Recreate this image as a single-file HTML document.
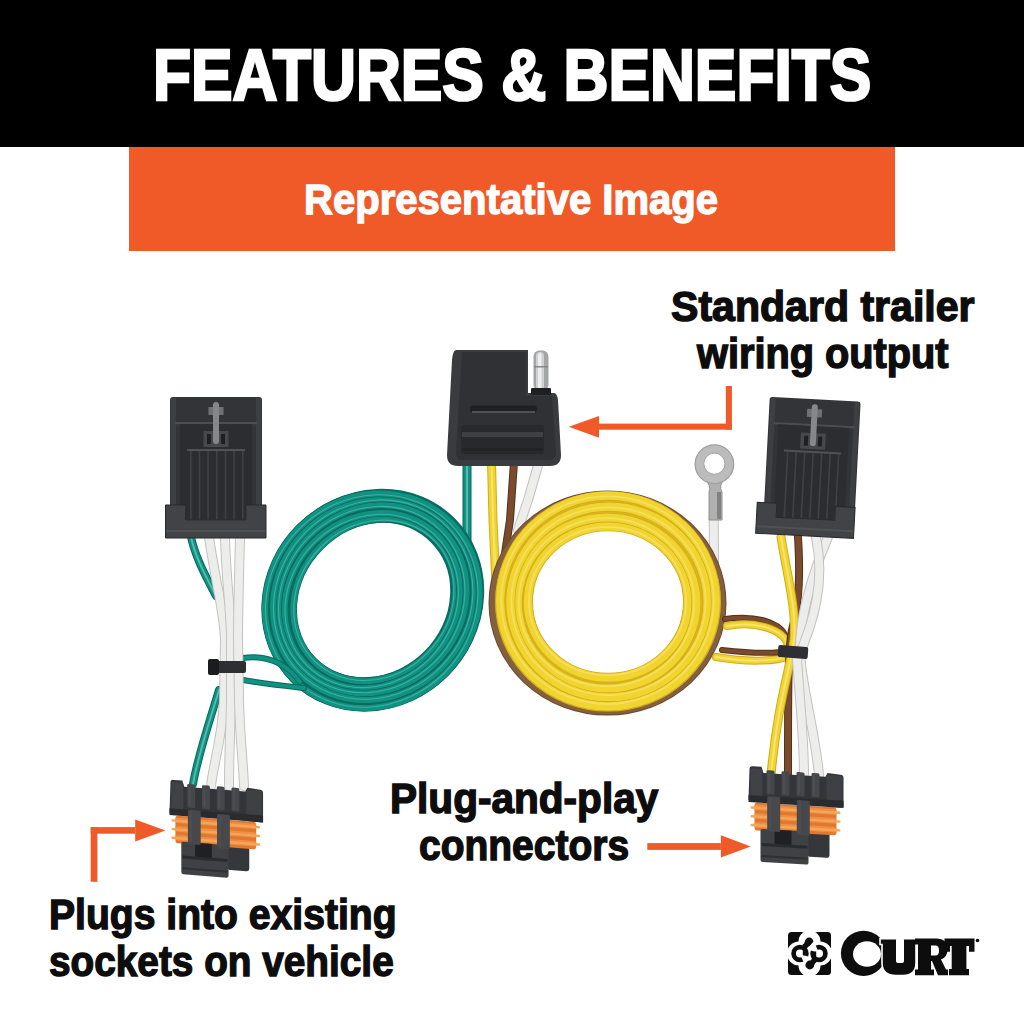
<!DOCTYPE html>
<html><head><meta charset="utf-8">
<style>
html,body{margin:0;padding:0;background:#fff;width:1024px;height:1024px;overflow:hidden;position:relative}
.t{position:absolute;font-family:"Liberation Sans",sans-serif;font-weight:bold;white-space:nowrap;line-height:1;transform-origin:0 0}
#hdr{position:absolute;left:0;top:0;width:1024px;height:147px;background:#000}
#band{position:absolute;left:129px;top:147px;width:766px;height:104px;background:#f05a28}
svg{position:absolute;left:0;top:0}
</style></head><body>
<div id="hdr"></div>
<div id="band"></div>
<div class="t" id="t1" style="color:#fff;-webkit-text-stroke:2.6px #fff;font-size:71.5px;left:153px;top:39.5px;transform:scaleX(0.8707)">FEATURES &amp; BENEFITS</div>
<div class="t" id="t2" style="color:#fff;-webkit-text-stroke:1.3px #fff;font-size:42.3px;left:304px;top:179px;transform:scaleX(0.947)">Representative Image</div>
<div class="t" id="t3" style="color:#0d0d0d;-webkit-text-stroke:1.4px #0d0d0d;font-size:42px;left:671px;top:286px;transform:scaleX(0.978)">Standard trailer</div>
<div class="t" id="t4" style="color:#0d0d0d;-webkit-text-stroke:1.4px #0d0d0d;font-size:42px;left:697px;top:332.5px;transform:scaleX(0.946)">wiring output</div>
<div class="t" id="t5" style="color:#0d0d0d;-webkit-text-stroke:1.4px #0d0d0d;font-size:42.5px;left:390px;top:777.5px;transform:scaleX(0.955)">Plug-and-play</div>
<div class="t" id="t6" style="color:#0d0d0d;-webkit-text-stroke:1.4px #0d0d0d;font-size:42.5px;left:419px;top:825px;transform:scaleX(0.917)">connectors</div>
<div class="t" id="t7" style="color:#0d0d0d;-webkit-text-stroke:1.4px #0d0d0d;font-size:42.5px;left:49px;top:893.5px;transform:scaleX(0.92)">Plugs into existing</div>
<div class="t" id="t8" style="color:#0d0d0d;-webkit-text-stroke:1.4px #0d0d0d;font-size:42.5px;left:49px;top:941px;transform:scaleX(0.912)">sockets on vehicle</div>
<svg width="1024" height="1024" viewBox="0 0 1024 1024">
<path d="M467,462 L467,560" fill="none" stroke="#0a675c" stroke-width="9" stroke-linecap="round" stroke-linejoin="round"/>
<path d="M467,462 L467,560" fill="none" stroke="#0f9282" stroke-width="7" stroke-linecap="round" stroke-linejoin="round"/>
<path d="M467,462 L467,560" fill="none" stroke="#6cc6ba" stroke-width="2.0" stroke-linecap="round" opacity="0.8"/>
<path d="M491.5,462 L493,520 L496,585" fill="none" stroke="#cfad1c" stroke-width="9" stroke-linecap="round" stroke-linejoin="round"/>
<path d="M491.5,462 L493,520 L496,585" fill="none" stroke="#f2d42f" stroke-width="7" stroke-linecap="round" stroke-linejoin="round"/>
<path d="M491.5,462 L493,520 L496,585" fill="none" stroke="#f9e787" stroke-width="2.0" stroke-linecap="round" opacity="0.8"/>
<path d="M514,462 L510,520 L504,560" fill="none" stroke="#54321c" stroke-width="8" stroke-linecap="round" stroke-linejoin="round"/>
<path d="M514,462 L510,520 L504,560" fill="none" stroke="#7a4b2c" stroke-width="6" stroke-linecap="round" stroke-linejoin="round"/>
<path d="M539,462 L528,500 L518,530" fill="none" stroke="#c2c2c0" stroke-width="10" stroke-linecap="round" stroke-linejoin="round"/>
<path d="M539,462 L528,500 L518,530" fill="none" stroke="#ededeb" stroke-width="8" stroke-linecap="round" stroke-linejoin="round"/>
<path d="M713.7,518 L714,565" fill="none" stroke="#c2c2c0" stroke-width="10" stroke-linecap="round" stroke-linejoin="round"/>
<path d="M713.7,518 L714,565" fill="none" stroke="#ededeb" stroke-width="8" stroke-linecap="round" stroke-linejoin="round"/>
<g transform="rotate(-45 373 600)">
<ellipse cx="373" cy="600" rx="98.6" ry="89.6" fill="none" stroke="#0a6d62" stroke-width="34"/>
<ellipse cx="374" cy="601" rx="86.0" ry="76.0" fill="none" stroke="#0a675c" stroke-width="7.4"/>
<ellipse cx="374" cy="601" rx="86.0" ry="76.0" fill="none" stroke="#0f9282" stroke-width="6"/>
<ellipse cx="373.4" cy="600.8" rx="85.0" ry="75.0" fill="none" stroke="#6cc6ba" stroke-width="1.1" opacity="0.55"/>
<ellipse cx="372" cy="600" rx="92.3" ry="82.8" fill="none" stroke="#0a675c" stroke-width="7.4"/>
<ellipse cx="372" cy="600" rx="92.3" ry="82.8" fill="none" stroke="#0f9282" stroke-width="6"/>
<ellipse cx="371.4" cy="599.8" rx="91.3" ry="81.8" fill="none" stroke="#6cc6ba" stroke-width="1.1" opacity="0.55"/>
<ellipse cx="373" cy="599" rx="98.6" ry="89.6" fill="none" stroke="#0a675c" stroke-width="7.4"/>
<ellipse cx="373" cy="599" rx="98.6" ry="89.6" fill="none" stroke="#0f9282" stroke-width="6"/>
<ellipse cx="372.4" cy="598.8" rx="97.6" ry="88.6" fill="none" stroke="#6cc6ba" stroke-width="1.1" opacity="0.55"/>
<ellipse cx="374" cy="600" rx="104.9" ry="96.4" fill="none" stroke="#0a675c" stroke-width="7.4"/>
<ellipse cx="374" cy="600" rx="104.9" ry="96.4" fill="none" stroke="#0f9282" stroke-width="6"/>
<ellipse cx="373.4" cy="599.8" rx="103.9" ry="95.4" fill="none" stroke="#6cc6ba" stroke-width="1.1" opacity="0.55"/>
<ellipse cx="372" cy="600" rx="111.2" ry="103.2" fill="none" stroke="#0a675c" stroke-width="7.4"/>
<ellipse cx="372" cy="600" rx="111.2" ry="103.2" fill="none" stroke="#0f9282" stroke-width="6"/>
<ellipse cx="371.4" cy="599.8" rx="110.2" ry="102.2" fill="none" stroke="#6cc6ba" stroke-width="1.1" opacity="0.55"/>
</g>
<ellipse cx="607.5" cy="603" rx="114.5" ry="108" fill="none" stroke="#6d4a30" stroke-width="9"/>
<ellipse cx="607.5" cy="603" rx="114.5" ry="108" fill="none" stroke="#85603f" stroke-width="7"/>
<ellipse cx="608" cy="602" rx="94" ry="90.5" fill="none" stroke="#d8b51f" stroke-width="38"/>
<ellipse cx="608" cy="602" rx="80.1" ry="75.6" fill="none" stroke="#cfad1c" stroke-width="9.6"/>
<ellipse cx="608" cy="602" rx="80.1" ry="75.6" fill="none" stroke="#f2d42f" stroke-width="8.2"/>
<ellipse cx="607.5" cy="601.2" rx="78.6" ry="74.1" fill="none" stroke="#f9e787" stroke-width="1.8" opacity="0.55"/>
<ellipse cx="607" cy="603" rx="89.3" ry="85.5" fill="none" stroke="#cfad1c" stroke-width="9.6"/>
<ellipse cx="607" cy="603" rx="89.3" ry="85.5" fill="none" stroke="#f2d42f" stroke-width="8.2"/>
<ellipse cx="606.5" cy="602.2" rx="87.8" ry="84.0" fill="none" stroke="#f9e787" stroke-width="1.8" opacity="0.55"/>
<ellipse cx="609" cy="602" rx="98.6" ry="95.4" fill="none" stroke="#cfad1c" stroke-width="9.6"/>
<ellipse cx="609" cy="602" rx="98.6" ry="95.4" fill="none" stroke="#f2d42f" stroke-width="8.2"/>
<ellipse cx="608.5" cy="601.2" rx="97.1" ry="93.9" fill="none" stroke="#f9e787" stroke-width="1.8" opacity="0.55"/>
<ellipse cx="608" cy="601" rx="107.8" ry="105.3" fill="none" stroke="#cfad1c" stroke-width="9.6"/>
<ellipse cx="608" cy="601" rx="107.8" ry="105.3" fill="none" stroke="#f2d42f" stroke-width="8.2"/>
<ellipse cx="607.5" cy="600.2" rx="106.3" ry="103.8" fill="none" stroke="#f9e787" stroke-width="1.8" opacity="0.55"/>
<path d="M704,478 Q712,486 709,492 L709,520 L722,520 L722,492 Q718,486 725,478 Z" fill="#b0b0b0" stroke="#909090" stroke-width="1"/>
<rect x="717" y="492" width="4" height="27" fill="#6e6e6e" opacity="0.7"/>
<circle cx="714.4" cy="464.2" r="19.3" fill="#bcbcbc" stroke="#9c9c9c" stroke-width="1.2"/>
<circle cx="714.4" cy="463.7" r="10.6" fill="#fff" stroke="#a0a0a0" stroke-width="1"/>
<path d="M191,537 C196,560 208,580 216,596" fill="none" stroke="#0a675c" stroke-width="8" stroke-linecap="round" stroke-linejoin="round"/>
<path d="M191,537 C196,560 208,580 216,596" fill="none" stroke="#0f9282" stroke-width="6" stroke-linecap="round" stroke-linejoin="round"/>
<path d="M191,537 C196,560 208,580 216,596" fill="none" stroke="#6cc6ba" stroke-width="1.8" stroke-linecap="round" opacity="0.8"/>
<path d="M243,658 C265,655 285,662 300,682" fill="none" stroke="#0a675c" stroke-width="6" stroke-linecap="round" stroke-linejoin="round"/>
<path d="M243,658 C265,655 285,662 300,682" fill="none" stroke="#0f9282" stroke-width="4" stroke-linecap="round" stroke-linejoin="round"/>
<path d="M243,680 C265,684 285,686 304,688" fill="none" stroke="#0a675c" stroke-width="6" stroke-linecap="round" stroke-linejoin="round"/>
<path d="M243,680 C265,684 285,686 304,688" fill="none" stroke="#0f9282" stroke-width="4" stroke-linecap="round" stroke-linejoin="round"/>
<path d="M219,690 C210,720 198,755 193,784" fill="none" stroke="#0a675c" stroke-width="8" stroke-linecap="round" stroke-linejoin="round"/>
<path d="M219,690 C210,720 198,755 193,784" fill="none" stroke="#0f9282" stroke-width="6" stroke-linecap="round" stroke-linejoin="round"/>
<path d="M219,690 C210,720 198,755 193,784" fill="none" stroke="#6cc6ba" stroke-width="1.8" stroke-linecap="round" opacity="0.8"/>
<path d="M209,537 C215,580 224,610 225,640 L224,700 C222,740 214,760 211,786" fill="none" stroke="#c2c2c0" stroke-width="10" stroke-linecap="round" stroke-linejoin="round"/>
<path d="M209,537 C215,580 224,610 225,640 L224,700 C222,740 214,760 211,786" fill="none" stroke="#ededeb" stroke-width="8" stroke-linecap="round" stroke-linejoin="round"/>
<path d="M225,537 C226,580 231,610 231,640 L231,700 C230,740 229,760 229,786" fill="none" stroke="#c2c2c0" stroke-width="10" stroke-linecap="round" stroke-linejoin="round"/>
<path d="M225,537 C226,580 231,610 231,640 L231,700 C230,740 229,760 229,786" fill="none" stroke="#ededeb" stroke-width="8" stroke-linecap="round" stroke-linejoin="round"/>
<path d="M240,537 C239,580 238,610 238,640 L239,700 C240,740 243,760 244,786" fill="none" stroke="#c2c2c0" stroke-width="10" stroke-linecap="round" stroke-linejoin="round"/>
<path d="M240,537 C239,580 238,610 238,640 L239,700 C240,740 243,760 244,786" fill="none" stroke="#ededeb" stroke-width="8" stroke-linecap="round" stroke-linejoin="round"/>
<rect x="208" y="661" width="38" height="12" rx="2" fill="#2d2f33"/>
<rect x="208" y="659" width="11" height="16" rx="2" fill="#1b1c1f"/>
<path d="M725,619 C760,614 788,625 786,642" fill="none" stroke="#54321c" stroke-width="6" stroke-linecap="round" stroke-linejoin="round"/>
<path d="M725,619 C760,614 788,625 786,642" fill="none" stroke="#7a4b2c" stroke-width="4" stroke-linecap="round" stroke-linejoin="round"/>
<path d="M727,626 C760,620 790,632 788,650" fill="none" stroke="#cfad1c" stroke-width="8" stroke-linecap="round" stroke-linejoin="round"/>
<path d="M727,626 C760,620 790,632 788,650" fill="none" stroke="#f2d42f" stroke-width="6" stroke-linecap="round" stroke-linejoin="round"/>
<path d="M727,626 C760,620 790,632 788,650" fill="none" stroke="#f9e787" stroke-width="1.8" stroke-linecap="round" opacity="0.8"/>
<path d="M716,657 C745,662 775,662 788,656" fill="none" stroke="#cfad1c" stroke-width="8" stroke-linecap="round" stroke-linejoin="round"/>
<path d="M716,657 C745,662 775,662 788,656" fill="none" stroke="#f2d42f" stroke-width="6" stroke-linecap="round" stroke-linejoin="round"/>
<path d="M716,657 C745,662 775,662 788,656" fill="none" stroke="#f9e787" stroke-width="1.8" stroke-linecap="round" opacity="0.8"/>
<path d="M722,650 C740,652 765,654 780,652" fill="none" stroke="#54321c" stroke-width="6" stroke-linecap="round" stroke-linejoin="round"/>
<path d="M722,650 C740,652 765,654 780,652" fill="none" stroke="#7a4b2c" stroke-width="4" stroke-linecap="round" stroke-linejoin="round"/>
<path d="M798,537 C800,570 800,600 792,630 C788,650 788,690 788,775" fill="none" stroke="#54321c" stroke-width="8" stroke-linecap="round" stroke-linejoin="round"/>
<path d="M798,537 C800,570 800,600 792,630 C788,650 788,690 788,775" fill="none" stroke="#7a4b2c" stroke-width="6" stroke-linecap="round" stroke-linejoin="round"/>
<path d="M781,537 C786,570 797,610 794,640 C790,670 778,700 771,775" fill="none" stroke="#cfad1c" stroke-width="9" stroke-linecap="round" stroke-linejoin="round"/>
<path d="M781,537 C786,570 797,610 794,640 C790,670 778,700 771,775" fill="none" stroke="#f2d42f" stroke-width="7" stroke-linecap="round" stroke-linejoin="round"/>
<path d="M781,537 C786,570 797,610 794,640 C790,670 778,700 771,775" fill="none" stroke="#f9e787" stroke-width="2.0" stroke-linecap="round" opacity="0.8"/>
<path d="M828,537 C810,580 800,620 800,650 C800,680 815,730 819,775" fill="none" stroke="#c2c2c0" stroke-width="10" stroke-linecap="round" stroke-linejoin="round"/>
<path d="M828,537 C810,580 800,620 800,650 C800,680 815,730 819,775" fill="none" stroke="#ededeb" stroke-width="8" stroke-linecap="round" stroke-linejoin="round"/>
<path d="M816,537 C825,580 815,620 797,660 C800,700 804,740 804,775" fill="none" stroke="#c2c2c0" stroke-width="10" stroke-linecap="round" stroke-linejoin="round"/>
<path d="M816,537 C825,580 815,620 797,660 C800,700 804,740 804,775" fill="none" stroke="#ededeb" stroke-width="8" stroke-linecap="round" stroke-linejoin="round"/>
<rect x="778" y="646" width="30" height="12" rx="2" fill="#2d2f33" transform="rotate(4 793 652)"/>
<g>
<rect x="170" y="397" width="92" height="124.5" rx="3" fill="#333438"/>
<rect x="171" y="398" width="5" height="108" fill="#3e3f43"/>
<rect x="256" y="398" width="5" height="108" fill="#3e3f43"/>
<rect x="175" y="422" width="82" height="2.2" fill="#4b4d51"/>
<rect x="180" y="424" width="72" height="97.5" fill="#2c2d31"/>
<rect x="187" y="449" width="58" height="2" fill="#505256"/>
<rect x="190.0" y="451" width="1.6" height="68.85" fill="#404145"/>
<rect x="198.7" y="451" width="1.6" height="68.85" fill="#404145"/>
<rect x="207.3" y="451" width="1.6" height="68.85" fill="#404145"/>
<rect x="216.0" y="451" width="1.6" height="68.85" fill="#404145"/>
<rect x="224.7" y="451" width="1.6" height="68.85" fill="#404145"/>
<rect x="233.3" y="451" width="1.6" height="68.85" fill="#404145"/>
<rect x="242.0" y="451" width="1.6" height="68.85" fill="#404145"/>
<rect x="203.5" y="431" width="25" height="16" fill="#46484c"/>
<rect x="207.0" y="434" width="4" height="10" fill="#1e1f21"/>
<rect x="221.0" y="434" width="4" height="10" fill="#1e1f21"/>
<rect x="208.5" y="407" width="15" height="8" fill="#6f7175"/>
<rect x="213.0" y="402" width="6" height="42" rx="3" fill="#85878b"/>
<path d="M165.5,505 h20.1 v14.85 h60.3 v-14.85 h20.1 v33 h-100.5 Z" fill="#414347" stroke="#2a2b2e" stroke-width="1"/>
<rect x="166.5" y="530" width="98.5" height="2" fill="#4f5155"/>
</g>
<g transform="rotate(3 810 470)">
<rect x="766" y="399" width="91" height="121.5" rx="3" fill="#333438"/>
<rect x="767" y="400" width="5" height="106" fill="#3e3f43"/>
<rect x="851" y="400" width="5" height="106" fill="#3e3f43"/>
<rect x="771" y="424" width="81" height="2.2" fill="#4b4d51"/>
<rect x="776" y="426" width="71" height="94.5" fill="#2c2d31"/>
<rect x="783" y="451" width="57" height="2" fill="#505256"/>
<rect x="786.0" y="453" width="1.6" height="65.95" fill="#404145"/>
<rect x="794.5" y="453" width="1.6" height="65.95" fill="#404145"/>
<rect x="803.0" y="453" width="1.6" height="65.95" fill="#404145"/>
<rect x="811.5" y="453" width="1.6" height="65.95" fill="#404145"/>
<rect x="820.0" y="453" width="1.6" height="65.95" fill="#404145"/>
<rect x="828.5" y="453" width="1.6" height="65.95" fill="#404145"/>
<rect x="837.0" y="453" width="1.6" height="65.95" fill="#404145"/>
<rect x="799.0" y="433" width="25" height="16" fill="#46484c"/>
<rect x="802.5" y="436" width="4" height="10" fill="#1e1f21"/>
<rect x="816.5" y="436" width="4" height="10" fill="#1e1f21"/>
<rect x="804.0" y="409" width="15" height="8" fill="#6f7175"/>
<rect x="808.5" y="404" width="6" height="42" rx="3" fill="#85878b"/>
<path d="M759,505 h19.6 v13.950000000000001 h58.8 v-13.950000000000001 h19.6 v31 h-98 Z" fill="#414347" stroke="#2a2b2e" stroke-width="1"/>
<rect x="760" y="528" width="96" height="2" fill="#4f5155"/>
</g>
<path d="M456,350 L528,350 L528,393 L554,393 Q557,393 558,400 L561,455 Q561,466 550,466 L458,466 Q447,466 447,455 L452,360 Q453,350 456,350 Z" fill="#3a3b3e"/>
<path d="M462,352 L526,352 L526,396 L552,396 L556,452 Q556,460 548,460 L462,460 Q456,460 456,452 Z" fill="#303134"/>
<rect x="470" y="405.5" width="67" height="7" rx="3.5" fill="#1f2022"/>
<rect x="472" y="411" width="63" height="2" fill="#505155"/>
<rect x="461" y="425" width="83" height="29" rx="3" fill="#28292c"/>
<rect x="462" y="432" width="81" height="5" fill="#3f4043"/>
<rect x="462" y="448" width="81" height="3" fill="#222325"/>
<rect x="533.5" y="350.5" width="15" height="40" rx="6" fill="#a4a5a7"/>
<rect x="536" y="352" width="8" height="38" rx="4" fill="#cfd0d2"/>
<rect x="538" y="353" width="3.5" height="37" rx="1.75" fill="#eeeeef"/>
<rect x="534" y="366" width="14" height="1.5" fill="#888"/>
<rect x="531" y="388" width="20" height="7" rx="1" fill="#1e1f22"/>
<g transform="translate(747.5 766) skewY(3.5) scale(1.0)">
<rect x="60" y="60" width="22" height="27" rx="3" fill="#35373b"/>
<rect x="7" y="36" width="82" height="28" rx="3" fill="#e0792f"/>
<rect x="7" y="38.0" width="82" height="5.5" rx="2" fill="#ee8f45"/>
<rect x="3" y="40.0" width="90" height="2.4" rx="1.2" fill="#f7a457"/>
<rect x="7" y="46.8" width="82" height="5.5" rx="2" fill="#ee8f45"/>
<rect x="3" y="48.8" width="90" height="2.4" rx="1.2" fill="#f7a457"/>
<rect x="7" y="55.6" width="82" height="5.5" rx="2" fill="#ee8f45"/>
<rect x="3" y="57.6" width="90" height="2.4" rx="1.2" fill="#f7a457"/>
<rect x="13" y="62" width="48" height="33" rx="2" fill="#3f4145"/>
<rect x="27" y="62" width="17" height="15" fill="#1f2023"/>
<rect x="14" y="76" width="46" height="3" fill="#2a2b2e"/>
<rect x="14" y="88" width="46" height="2" fill="#2e3033"/>
<path d="M2,3 Q2,0 5,0 L14,0 L16,6 L78,6 L80,2 L93,3 Q96,3 96,6 L96,36 L1,34 Z" fill="#33353a"/>
<rect x="3" y="2" width="12" height="31" rx="2" fill="#404246"/>
<rect x="79" y="4" width="16" height="32" rx="2" fill="#3e4044"/>
<rect x="19" y="3" width="8" height="24" rx="1.5" fill="#45474b"/>
<rect x="20.5" y="5" width="2" height="20" fill="#4d4f53"/>
<rect x="34" y="3" width="8" height="24" rx="1.5" fill="#45474b"/>
<rect x="35.5" y="5" width="2" height="20" fill="#4d4f53"/>
<rect x="49" y="3" width="8" height="24" rx="1.5" fill="#45474b"/>
<rect x="50.5" y="5" width="2" height="20" fill="#4d4f53"/>
<rect x="64" y="3" width="8" height="24" rx="1.5" fill="#45474b"/>
<rect x="65.5" y="5" width="2" height="20" fill="#4d4f53"/>
<rect x="1" y="29" width="95" height="7" fill="#2a2b2f"/>
<rect x="19.7" y="29" width="13" height="35" rx="1.5" fill="#46484c"/>
<rect x="49.3" y="31" width="13" height="35" rx="1.5" fill="#46484c"/>
<rect x="21" y="30" width="3" height="32" fill="#4b4d51"/>
<rect x="50.6" y="32" width="3" height="32" fill="#4b4d51"/>
</g>
<g transform="translate(168.5 779.5) skewY(4.5) scale(0.985)">
<rect x="60" y="60" width="22" height="27" rx="3" fill="#35373b"/>
<rect x="7" y="36" width="82" height="28" rx="3" fill="#e0792f"/>
<rect x="7" y="38.0" width="82" height="5.5" rx="2" fill="#ee8f45"/>
<rect x="3" y="40.0" width="90" height="2.4" rx="1.2" fill="#f7a457"/>
<rect x="7" y="46.8" width="82" height="5.5" rx="2" fill="#ee8f45"/>
<rect x="3" y="48.8" width="90" height="2.4" rx="1.2" fill="#f7a457"/>
<rect x="7" y="55.6" width="82" height="5.5" rx="2" fill="#ee8f45"/>
<rect x="3" y="57.6" width="90" height="2.4" rx="1.2" fill="#f7a457"/>
<rect x="13" y="62" width="48" height="33" rx="2" fill="#3f4145"/>
<rect x="27" y="62" width="17" height="15" fill="#1f2023"/>
<rect x="14" y="76" width="46" height="3" fill="#2a2b2e"/>
<rect x="14" y="88" width="46" height="2" fill="#2e3033"/>
<path d="M2,3 Q2,0 5,0 L14,0 L16,6 L78,6 L80,2 L93,3 Q96,3 96,6 L96,36 L1,34 Z" fill="#33353a"/>
<rect x="3" y="2" width="12" height="31" rx="2" fill="#404246"/>
<rect x="79" y="4" width="16" height="32" rx="2" fill="#3e4044"/>
<rect x="19" y="3" width="8" height="24" rx="1.5" fill="#45474b"/>
<rect x="20.5" y="5" width="2" height="20" fill="#4d4f53"/>
<rect x="34" y="3" width="8" height="24" rx="1.5" fill="#45474b"/>
<rect x="35.5" y="5" width="2" height="20" fill="#4d4f53"/>
<rect x="49" y="3" width="8" height="24" rx="1.5" fill="#45474b"/>
<rect x="50.5" y="5" width="2" height="20" fill="#4d4f53"/>
<rect x="64" y="3" width="8" height="24" rx="1.5" fill="#45474b"/>
<rect x="65.5" y="5" width="2" height="20" fill="#4d4f53"/>
<rect x="1" y="29" width="95" height="7" fill="#2a2b2f"/>
<rect x="19.7" y="29" width="13" height="35" rx="1.5" fill="#46484c"/>
<rect x="49.3" y="31" width="13" height="35" rx="1.5" fill="#46484c"/>
<rect x="21" y="30" width="3" height="32" fill="#4b4d51"/>
<rect x="50.6" y="32" width="3" height="32" fill="#4b4d51"/>
</g>
<g fill="#0d0d0d">
<rect x="788" y="932" width="43" height="43" rx="3.5"/>
<g fill="#fff">
<circle cx="809.5" cy="941.5" r="11"/>
<circle cx="809.5" cy="965.5" r="11"/>
<circle cx="799" cy="953.5" r="12"/>
<circle cx="820" cy="953.5" r="12"/>
</g>
<g>
<circle cx="800" cy="953.5" r="6.4" fill="none" stroke="#0d0d0d" stroke-width="4.7"/>
<path d="M800,953.5 L812,958 L805,966 Z" fill="#fff"/>
<rect x="802.8" y="944" width="4.4" height="11.5"/>
<circle cx="809.2" cy="942" r="4.4"/>
<path d="M803,945 L806,940 L809,946 L807,948 Z"/>
</g>
<g transform="rotate(180 809.5 953.5)">
<circle cx="800" cy="953.5" r="6.4" fill="none" stroke="#0d0d0d" stroke-width="4.7"/>
<path d="M800,953.5 L812,958 L805,966 Z" fill="#fff"/>
<rect x="802.8" y="944" width="4.4" height="11.5"/>
<circle cx="809.2" cy="942" r="4.4"/>
<path d="M803,945 L806,940 L809,946 L807,948 Z"/>
</g>
<circle cx="863.5" cy="953.3" r="22.6"/>
</g>
<ellipse cx="867" cy="954" rx="14" ry="12.8" fill="#fff"/>
<g fill="#0d0d0d">
<path d="M880,938.6 H917.5 V944.5 H916 V963 Q916,975.5 903,975.5 H896 Q882,975.5 882,963 V944.5 H880 Z" stroke="#fff" stroke-width="1.6"/>
<path d="M915,938.6 H936 Q947.5,938.6 947.5,949.5 Q947.5,957 941,959.5 L946,969.5 H948 V975.3 H938 L932,961 H931 V969.5 H934 V975.3 H915 V969.5 H918 V944.5 H915 Z"/>
<path d="M944.5,938.6 H974.5 V951.8 H969 V946 H966.4 V969 H969 V975.3 H949 V969 H951.7 V946 H950 V951.8 H944.5 Z"/>
<circle cx="977.5" cy="940.5" r="1.8"/>
</g>
<rect x="896" y="938" width="8" height="25" rx="2" fill="#fff"/>
<path d="M931,945.5 H935.5 Q939,945.5 939,950.5 Q939,955.5 935.5,955.5 H931 Z" fill="#fff"/>

<g fill="#f05a28">
<rect x="725.8" y="386" width="6.1" height="43.7"/>
<rect x="599" y="423.6" width="132.9" height="6.1"/>
<polygon points="599,416 599,437.7 568.8,426.8"/>
<rect x="647.3" y="843.1" width="73.6" height="6.8"/>
<polygon points="720.9,835.2 720.9,857.5 750.7,846.4"/>
<rect x="90.7" y="827.1" width="6.7" height="54.7"/>
<rect x="90.7" y="827.1" width="44.5" height="6.6"/>
<polygon points="135.2,819.5 135.2,841.4 165.4,830.5"/>
</g>
</svg>
</body></html>
